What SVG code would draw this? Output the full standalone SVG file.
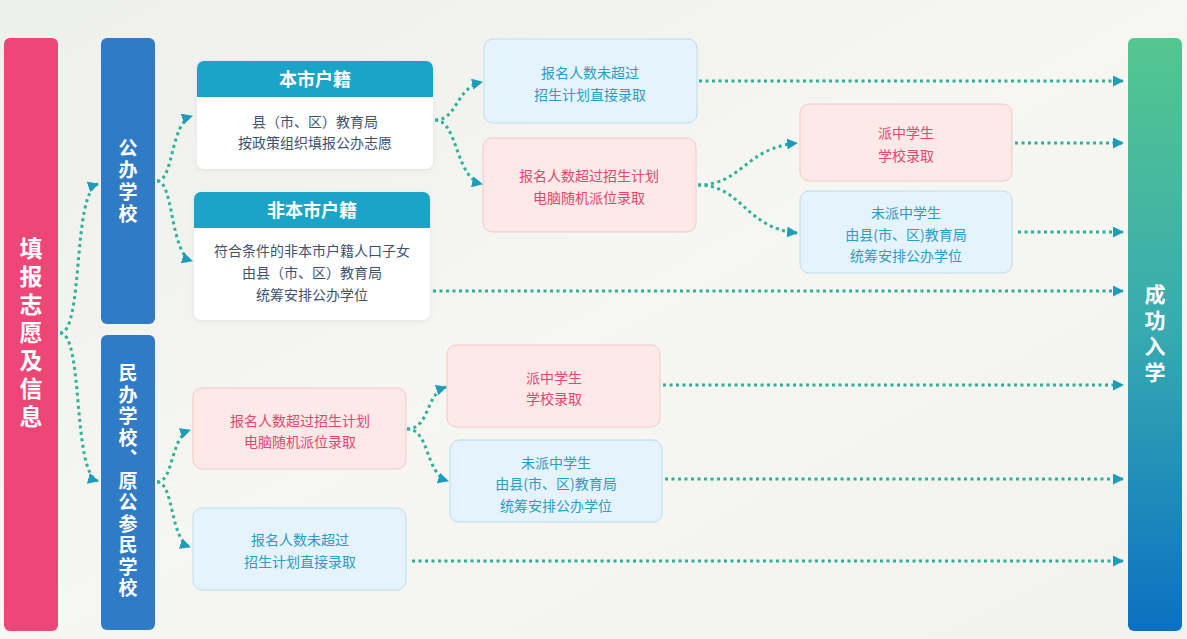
<svg xmlns="http://www.w3.org/2000/svg" width="1187" height="639" viewBox="0 0 1187 639">
<defs>
<linearGradient id="bg" x1="0" y1="0" x2="1" y2="1">
<stop offset="0" stop-color="#eef0ec"/><stop offset="0.5" stop-color="#f6f6f2"/><stop offset="1" stop-color="#f2f3ef"/>
</linearGradient>
<linearGradient id="endg" x1="0" y1="0" x2="0" y2="1">
<stop offset="0" stop-color="#55c68f"/><stop offset="0.5" stop-color="#36aab0"/><stop offset="1" stop-color="#0b70c2"/>
</linearGradient>
<marker id="ah" markerUnits="userSpaceOnUse" markerWidth="11" markerHeight="11" refX="10" refY="5.5" orient="auto">
<path d="M0,0 L11,5.5 L0,11 z" fill="#1e9dbb"/>
</marker>
<filter id="sh" x="-10%" y="-10%" width="120%" height="130%">
<feDropShadow dx="0" dy="1" stdDeviation="2" flood-color="#9ab" flood-opacity="0.25"/>
</filter>
<style>
.vt{font-family:"Noto Sans CJK SC","Noto Sans",sans-serif;font-weight:bold;fill:#fff;text-anchor:middle;writing-mode:vertical-rl}
.hd{font-family:"Noto Sans CJK SC","Noto Sans",sans-serif;font-weight:bold;fill:#fff;font-size:18px;text-anchor:middle}
.bd{font-family:"Noto Sans CJK SC","Noto Sans",sans-serif;fill:#3e5270;font-size:14px;text-anchor:middle}
.bt{font-family:"Noto Sans CJK SC","Noto Sans",sans-serif;fill:#2b9cc2;font-size:14px;text-anchor:middle}
.pt{font-family:"Noto Sans CJK SC","Noto Sans",sans-serif;fill:#e4466f;font-size:14px;text-anchor:middle}
.bbox{fill:#e4f3fc;stroke:#bcdcee;stroke-width:1}
.pbox{fill:#fde9e8;stroke:#f4c9c8;stroke-width:1}
.ln{fill:none;stroke:#2cb29a;stroke-width:3;stroke-dasharray:3 3.5;marker-end:url(#ah)}
</style>
</defs>
<rect width="1187" height="639" fill="url(#bg)"/>

<g id="start">
<rect x="4" y="38" width="54" height="593" rx="6" fill="#ee4677"/>
<text class="vt" font-size="23" letter-spacing="5" x="31" y="335">填报志愿及信息</text>
</g>

<g id="public">
<rect x="101" y="38" width="54" height="286" rx="6" fill="#2f7bc6"/>
<text class="vt" font-size="19" letter-spacing="3" x="128" y="182">公办学校</text>
</g>

<g id="private">
<rect x="101" y="335" width="54" height="295" rx="6" fill="#2f7bc6"/>
<text class="vt" font-size="19" letter-spacing="2.5" x="128" y="482">民办学校、原公参民学校</text>
</g>

<g id="local">
<rect x="197" y="61" width="236" height="108" rx="7" fill="#fff" filter="url(#sh)"/>
<path d="M204 61 H426 A7 7 0 0 1 433 68 V97 H197 V68 A7 7 0 0 1 204 61 Z" fill="#1ba4c8"/>
<text class="hd" x="315" y="86">本市户籍</text>
<text class="bd" x="315" y="127">县（市、区）教育局</text>
<text class="bd" x="315" y="148">按政策组织填报公办志愿</text>
</g>

<g id="nonlocal">
<rect x="194" y="192" width="236" height="128" rx="7" fill="#fff" filter="url(#sh)"/>
<path d="M201 192 H423 A7 7 0 0 1 430 199 V228 H194 V199 A7 7 0 0 1 201 192 Z" fill="#1ba4c8"/>
<text class="hd" x="312" y="217">非本市户籍</text>
<text class="bd" x="312" y="256">符合条件的非本市户籍人口子女</text>
<text class="bd" x="312" y="278">由县（市、区）教育局</text>
<text class="bd" x="312" y="300">统筹安排公办学位</text>
</g>

<g id="boxA">
<rect class="bbox" x="484" y="39" width="213" height="84" rx="9"/>
<text class="bt" x="590" y="78">报名人数未超过</text>
<text class="bt" x="590" y="100">招生计划直接录取</text>
</g>
<g id="boxB">
<rect class="pbox" x="483" y="138" width="213" height="94" rx="9"/>
<text class="pt" x="589" y="181">报名人数超过招生计划</text>
<text class="pt" x="589" y="203">电脑随机派位录取</text>
</g>
<g id="boxC">
<rect class="pbox" x="800" y="104" width="212" height="77" rx="9"/>
<text class="pt" x="906" y="138">派中学生</text>
<text class="pt" x="906" y="161">学校录取</text>
</g>
<g id="boxD">
<rect class="bbox" x="800" y="191" width="212" height="82" rx="9"/>
<text class="bt" x="906" y="218">未派中学生</text>
<text class="bt" x="906" y="240">由县(市、区)教育局</text>
<text class="bt" x="906" y="261">统筹安排公办学位</text>
</g>
<g id="boxE">
<rect class="pbox" x="193" y="388" width="213" height="81" rx="9"/>
<text class="pt" x="300" y="426">报名人数超过招生计划</text>
<text class="pt" x="300" y="447">电脑随机派位录取</text>
</g>
<g id="boxF">
<rect class="pbox" x="447" y="345" width="213" height="82" rx="9"/>
<text class="pt" x="554" y="383">派中学生</text>
<text class="pt" x="554" y="404">学校录取</text>
</g>
<g id="boxG">
<rect class="bbox" x="450" y="440" width="212" height="82" rx="9"/>
<text class="bt" x="556" y="468">未派中学生</text>
<text class="bt" x="556" y="489">由县(市、区)教育局</text>
<text class="bt" x="556" y="511">统筹安排公办学位</text>
</g>
<g id="boxH">
<rect class="bbox" x="193" y="508" width="213" height="82" rx="9"/>
<text class="bt" x="300" y="545">报名人数未超过</text>
<text class="bt" x="300" y="567">招生计划直接录取</text>
</g>

<g id="end">
<rect x="1128" y="38" width="54" height="593" rx="6" fill="url(#endg)"/>
<text class="vt" font-size="21" letter-spacing="5" x="1155" y="336">成功入学</text>
</g>

<g id="connectors">
<path class="ln" d="M60 333 C84 333 72 192 98 184"/>
<path class="ln" d="M60 333 C84 333 72 474 98 481"/>
<path class="ln" d="M157 181 C174 181 170 123 192 116"/>
<path class="ln" d="M157 181 C174 181 170 254 192 261"/>
<path class="ln" d="M157 482 C174 482 170 437 190 430"/>
<path class="ln" d="M157 482 C174 482 170 540 190 547"/>
<path class="ln" d="M435 120 C458 120 455 88 482 82"/>
<path class="ln" d="M435 120 C458 120 455 178 482 184"/>
<path class="ln" d="M698 185 C742 185 745 148 797 143"/>
<path class="ln" d="M698 185 C742 185 745 228 797 233"/>
<path class="ln" d="M407 429 C430 429 425 394 446 387"/>
<path class="ln" d="M407 429 C430 429 425 474 448 481"/>
<path class="ln" d="M699 81 H1123"/>
<path class="ln" d="M1015 143 H1123"/>
<path class="ln" d="M1018 232 H1123"/>
<path class="ln" d="M433 291 H1123"/>
<path class="ln" d="M663 385 H1123"/>
<path class="ln" d="M665 479 H1123"/>
<path class="ln" d="M412 561 H1123"/>
</g>
</svg>
